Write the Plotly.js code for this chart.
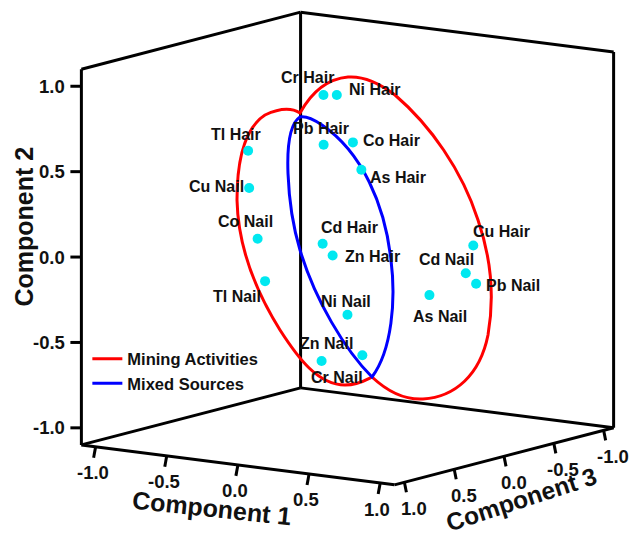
<!DOCTYPE html>
<html>
<head>
<meta charset="utf-8">
<script src="https://cdn.plot.ly/plotly-3.0.1.min.js"></script>
<style>html,body{margin:0;padding:0;background:#fff;}#chart{width:633px;height:537px;}</style>
</head>
<body>
<div id="chart"></div>
<script>
// ---------------- data ----------------
const labels = ["Cr Hair","Ni Hair","Tl Hair","Pb Hair","Co Hair","As Hair","Cu Nail","Co Nail","Cd Hair",
                "Zn Hair","Cu Hair","Cd Nail","Pb Nail","As Nail","Tl Nail","Ni Nail","Zn Nail","Cr Nail"];
// component loadings
const comp1 = [-0.204,-0.141,-0.527,-0.174,-0.037, 0.019,-0.500,-0.430,-0.120,
               -0.066, 0.592, 0.573, 0.628, 0.414,-0.370, 0.039,-0.056, 0.133];
const comp2 = [ 0.869, 0.869, 0.554, 0.588, 0.601, 0.446, 0.343, 0.055, 0.027,
               -0.040, 0.017,-0.140,-0.199,-0.264,-0.185,-0.375,-0.637,-0.605];
const comp3 = [-0.050,-0.094, 0.245,-0.009,-0.107,-0.112, 0.273, 0.288, 0.078,
                0.055,-0.417,-0.369,-0.394,-0.231, 0.299, 0.056, 0.180, 0.041];
const tickVals = [-1.0,-0.5,0.0,0.5,1.0];
const tickText = ["-1.0","-0.5","0.0","0.5","1.0"];
const axisRange = [-1.1, 1.1];
const groupNames = ["Mining Activities","Mixed Sources"];

// ---------------- style ----------------
// label placement: pixel offset of each label's centre from its point
const labelShift = [[-16,-18],[38,-6],[-12,-16],[-3,-16],[39,-2],[37,8],[-33,-1],[-12,-17],[27,-16],
                    [40,1],[28,-14],[-19,-14],[37,2],[11,21],[-28,15],[-1,-13],[5,-17],[-25,22]];
const FONT = "Liberation Sans, Arial, sans-serif";
const INK = '#111';
const W = 633, H = 537;

// orthographic view of the 3-D loading space onto the page (pixels)
const CAM = {x0:347.5, y0:248.5, scale:173.7, azimuth:35, elevation:10.5};
const ca = Math.cos(CAM.azimuth*Math.PI/180), sa = Math.sin(CAM.azimuth*Math.PI/180);
const ce = Math.cos(CAM.elevation*Math.PI/180), se = Math.sin(CAM.elevation*Math.PI/180);
function project(c1, c2, c3){
  const sx = ca*c1 - sa*c3;
  const depth = sa*c1 + ca*c3;
  const sy = ce*c2 - se*depth;
  return [CAM.x0 + CAM.scale*sx, CAM.y0 - CAM.scale*sy];
}

const lo = axisRange[0], hi = axisRange[1];
const shapes = [];
function seg(p, q, color, width){
  shapes.push({type:'line', xref:'x', yref:'y', x0:p[0], y0:p[1], x1:q[0], y1:q[1],
               line:{color:color, width:width}, layer:'below'});
}
// frame: edges of the three back walls
const edges = [
  [[lo,hi,hi],[lo,lo,hi]], [[lo,hi,lo],[lo,lo,lo]], [[hi,hi,lo],[hi,lo,lo]],   // verticals
  [[lo,hi,hi],[lo,hi,lo]], [[lo,hi,lo],[hi,hi,lo]],                             // top
  [[lo,lo,hi],[hi,lo,hi]], [[hi,lo,hi],[hi,lo,lo]],                             // front floor edges
  [[lo,lo,hi],[lo,lo,lo]], [[lo,lo,lo],[hi,lo,lo]]                              // back floor edges
];
edges.forEach(e => seg(project(...e[0]), project(...e[1]), '#000', 3));

const annotations = [];
function ann(x, y, text, size, opts){
  annotations.push(Object.assign({x:x, y:y, xref:'x', yref:'y', text:text, showarrow:false,
    font:{family:FONT, size:size, color:INK, weight:'bold'}}, opts||{}));
}
// ticks and tick labels
tickVals.forEach((v,i) => {
  // Component 2 on the left vertical edge
  let p = project(lo, v, hi);
  seg(p, [p[0]-11, p[1]], '#000', 3);
  ann(p[0]-14, p[1], tickText[i], 18.5, {xanchor:'right', yanchor:'middle'});
  // Component 1 along the front-left floor edge
  p = project(v, lo, hi);
  seg(p, [p[0]-2, p[1]+11], '#000', 3);
  ann(p[0]-3, p[1]+26, tickText[i], 18.5, {xanchor:'center', yanchor:'middle'});
  // Component 3 along the front-right floor edge
  p = project(hi, lo, v);
  seg(p, [p[0]+2, p[1]+10], '#000', 3);
  ann(p[0]+9.5, p[1]+26, tickText[i], 18.5, {xanchor:'center', yanchor:'middle'});
});
// axis titles
ann(23.5, 227, 'Component 2', 25, {textangle:-90, xanchor:'center', yanchor:'middle'});
ann(212, 508, 'Component 1', 25, {textangle:6, xanchor:'center', yanchor:'middle'});
ann(521, 499, 'Component 3', 24.5, {textangle:-18, xanchor:'center', yanchor:'middle'});

// hand-drawn grouping outlines
shapes.push({type:'path', xref:'x', yref:'y', layer:'below', line:{color:'#ff0000', width:3},
  path:'M300,113 C292,108 280,108 265,115 C245,128 237,160 237,200 C238,245 255,290 280,330 C298,358 318,385 345,385 C358,385 366,380 372,377 C388,392 405,400 423,399 C455,397 480,375 488,335 C495,295 490,255 478,220 C462,170 430,125 395,95 C378,82 362,76 348,77 C325,79 310,95 300,113 Z'});
shapes.push({type:'path', xref:'x', yref:'y', layer:'below', line:{color:'#0000ff', width:3},
  path:'M300,117 C280,130 288,210 300,250 C315,300 345,350 372,377 C392,350 396,300 391,260 C385,205 362,152 322,125 C313,119 305,116 300,117 Z'});

// projected points
const pts = labels.map((_,i) => project(comp1[i], comp2[i], comp3[i]));
pts.forEach((p,i) => ann(p[0], p[1], labels[i], 16,
  {xanchor:'center', yanchor:'middle', xshift:labelShift[i][0], yshift:-labelShift[i][1]}));

const traces = [
  {type:'scatter', mode:'markers', x:pts.map(p=>p[0]), y:pts.map(p=>p[1]), text:labels,
   marker:{size:10, color:'rgb(0,232,240)', line:{width:0}}, showlegend:false, hoverinfo:'text', cliponaxis:false},
  {type:'scatter', mode:'lines', x:[null], y:[null], name:groupNames[0], line:{color:'#ff0000', width:3}},
  {type:'scatter', mode:'lines', x:[null], y:[null], name:groupNames[1], line:{color:'#0000ff', width:3}}
];

const layout = {
  width:W, height:H, margin:{l:0,r:0,t:0,b:0},
  paper_bgcolor:'#fff', plot_bgcolor:'rgba(0,0,0,0)',
  xaxis:{range:[0,W], visible:false, fixedrange:true},
  yaxis:{range:[H,0], visible:false, fixedrange:true},
  showlegend:true,
  legend:{x:0.138, y:0.364, xanchor:'left', yanchor:'top', bgcolor:'rgba(0,0,0,0)',
          font:{family:FONT, size:16.5, color:INK, weight:'bold'}},
  shapes:shapes, annotations:annotations
};

Plotly.newPlot('chart', traces, layout, {displayModeBar:false, staticPlot:true});
</script>
</body>
</html>
